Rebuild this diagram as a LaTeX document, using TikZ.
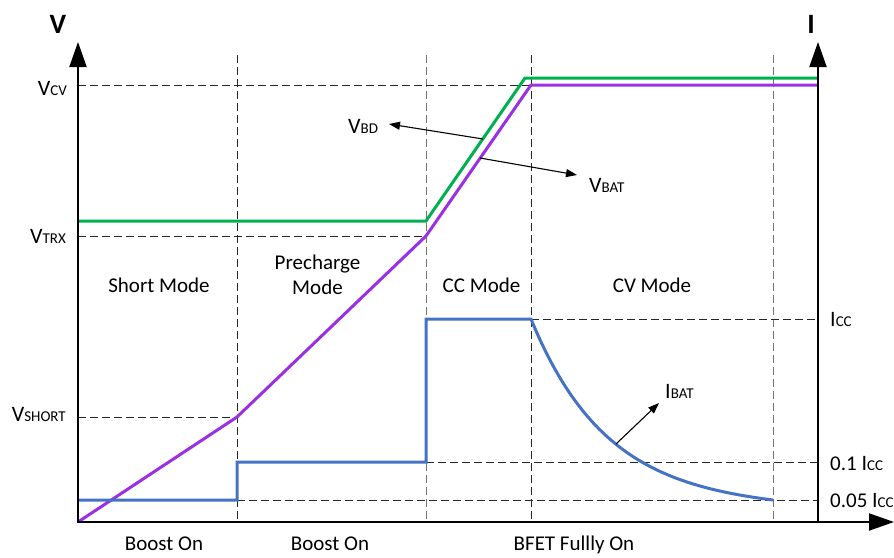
\documentclass[tikz,border=0pt]{standalone}
\usepackage{fontspec}
\setmainfont{Carlito}
\usetikzlibrary{arrows.meta}
\newcommand\bigtxt{\fontsize{22}{22}\selectfont}
\newcommand\smtxt{\fontsize{15}{15}\selectfont}
\newcommand\lbl[2]{{\bigtxt #1}{\smtxt #2}}
\definecolor{cgreen}{HTML}{00B050}
\definecolor{cpurple}{HTML}{9B2FE3}
\definecolor{cblue}{HTML}{4472C4}
\begin{document}
\begin{tikzpicture}[x=1pt,y=-1pt,
  axis/.style={line width=2pt, -{Triangle[length=25pt,width=17pt]}},
  guide/.style={line width=0.9pt, dash pattern=on 8pt off 4pt, draw=black!85},
  guidegray/.style={guide, draw=black!55},
  trace/.style={line width=3pt, line join=miter},
  note/.style={line width=1.1pt, -{Triangle[length=11pt,width=8pt]}},
  txt/.style={inner sep=0pt, font=\fontsize{21}{25}\selectfont},
  axlbl/.style={inner sep=0pt, font=\fontsize{28}{28}\selectfont\bfseries}
]
\useasboundingbox (0,0) rectangle (894,557);

% vertical guides
\draw[guide] (237,55) -- (237,522);
\draw[guidegray] (426,55) -- (426,522);
\draw[guide] (531,55) -- (531,522);
\draw[guidegray] (773,55) -- (773,522);

% horizontal guides
\draw[guide] (78,85) -- (531,85);
\draw[guide] (78,236) -- (426,236);
\draw[guide] (78,417) -- (237,417);
\draw[guide] (531,319) -- (818,319);
\draw[guide] (426,462) -- (818,462);
\draw[guide] (237,500) -- (818,500);

% traces
\draw[trace, cgreen] (78,221) -- (426,221) -- (525,78) -- (818,78);
\draw[trace, cpurple] (78,522) -- (237,417) -- (426,236) -- (531,85) -- (818,85);
\draw[trace, cblue] (78,500) -- (237,500) -- (237,462) -- (426,462) -- (426,319) -- (531,319)
  -- plot[domain=0:242, samples=90, smooth] ({531+\x},{500-181*(exp(-\x/75)-\x/242*exp(-242/75))});

% axes
\draw[axis] (78,522) -- (78,42);
\draw[axis] (818,522) -- (818,42);
\draw[axis] (77,522) -- (894,522);

% axis labels
\node[axlbl] (vax) at (58,24) {V};
\node[axlbl] (iax) at (811,24) {I};

% left labels
\node[inner sep=0pt, anchor=base east] (vcv) at (67,95) {\lbl{V}{CV}};
\node[inner sep=0pt, anchor=base east] (vtrx) at (66,243) {\lbl{V}{TRX}};
\node[inner sep=0pt, anchor=base east] (vshort) at (66,421) {\lbl{V}{SHORT}};

% right labels
\node[inner sep=0pt, anchor=base west] (icc) at (830,326) {\lbl{I}{CC}};
\node[inner sep=0pt, anchor=base west] (icc10) at (830,470) {{\fontsize{21}{21}\selectfont 0.1 }\lbl{I}{CC}};
\node[inner sep=0pt, anchor=base west] (icc05) at (830,507) {{\fontsize{21}{21}\selectfont 0.05 }\lbl{I}{CC}};

% mode labels
\node[txt, anchor=base] (short) at (159,292) {Short Mode};
\node[txt, align=center] (pre) at (317.5,275) {Precharge\\Mode};
\node[txt, anchor=base] (ccm) at (481.5,292) {CC Mode};
\node[txt, anchor=base] (cvm) at (652,292) {CV Mode};

% bottom labels
\node[txt, anchor=base] (b1) at (164,550) {Boost On};
\node[txt, anchor=base] (b2) at (330,550) {Boost On};
\node[txt, anchor=base] (b3) at (574,550) {BFET Fullly On};

% annotation labels
\node[inner sep=0pt, anchor=base west] (vbd) at (348,133) {\lbl{V}{BD}};
\node[inner sep=0pt, anchor=base west] (vbat) at (589,192) {\lbl{V}{BAT}};
\node[inner sep=0pt, anchor=base west] (ibat) at (665,398) {\lbl{I}{BAT}};

% annotation arrows
\coordinate (gpt) at (483,139);
\coordinate (ppt) at (480,158);
\coordinate (bpt) at (616,444);
\coordinate (vbdtip) at (389,124);
\coordinate (vbattip) at (577,175);
\coordinate (ibattip) at (659,403);
\draw[note] (gpt) -- (vbdtip);
\draw[note] (ppt) -- (vbattip);
\draw[note] (bpt) -- (ibattip);
\end{tikzpicture}
\end{document}
